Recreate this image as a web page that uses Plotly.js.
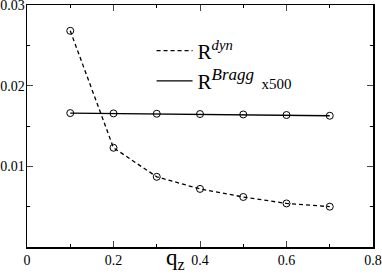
<!DOCTYPE html>
<html><head><meta charset="utf-8">
<script src="https://cdn.plot.ly/plotly-3.0.1.min.js"></script>
<style>html,body{margin:0;padding:0;background:#fff}#c{width:382px;height:277px}</style>
</head><body><div id="c"></div>
<script>
const qz = [0.1, 0.2, 0.3, 0.4, 0.5, 0.6, 0.7];
const rDyn = [0.0268, 0.0123, 0.0087, 0.0072, 0.0062, 0.0054, 0.0050];
const rBragg = [0.01660, 0.01656, 0.01652, 0.01648, 0.01643, 0.01636, 0.01627];
const xTicks = [0, 0.2, 0.4, 0.6, 0.8];
const xTickText = ['0', '0.2', '0.4', '0.6', '0.8'];
const yTicks = [0.01, 0.02, 0.03];
const yTickText = ['0.01', '0.02', '0.03'];

const fontFam = 'Liberation Serif';
const marker = {symbol: 'circle-open', size: 7, color: '#000', line: {width: 1, color: '#000'}};
const traces = [
  {x: qz, y: rDyn, mode: 'lines', name: 'R<sup><i>dyn</i></sup>',
   line: {color: '#000', width: 1.3, dash: '4px,3px'}},
  {x: qz, y: rBragg, mode: 'lines',
   name: 'R<sup><i><span style="font-size:17px">Bragg</span></i></sup><span style="font-size:15px">  x500</span>',
   line: {color: '#000', width: 1.3}},
  {x: qz, y: rDyn, mode: 'markers', showlegend: false, marker: marker},
  {x: qz, y: rBragg, mode: 'markers', showlegend: false, marker: marker}
];
const layout = {
  width: 382, height: 277,
  margin: {l: 27, r: 9, t: 5, b: 30},
  paper_bgcolor: '#fff', plot_bgcolor: '#fff',
  font: {family: fontFam, color: '#000', size: 14},
  showlegend: true,
  legend: {x: 0.36, y: 0.895, xanchor: 'left', yanchor: 'top', bgcolor: 'rgba(0,0,0,0)',
           font: {family: fontFam, size: 21, color: '#000'}, itemwidth: 36, tracegroupgap: 2},
  annotations: [{text: 'q<sub>z</sub>', xref: 'paper', yref: 'paper', x: 0.43, y: 0,
                 xanchor: 'center', yanchor: 'top', yshift: 4, showarrow: false,
                 font: {family: fontFam, size: 23, color: '#000'}}],
  xaxis: {range: [0, 0.8], tickvals: xTicks, ticktext: xTickText, ticks: 'inside', ticklen: 6,
          minor: {dtick: 0.1, ticks: 'inside', ticklen: 3, tickcolor: '#000'},
          showline: true, linecolor: '#000', linewidth: 1.5, mirror: 'allticks', showgrid: false,
          zeroline: false, tickfont: {size: 14, family: fontFam}, ticklabeloverflow: 'allow'},
  yaxis: {range: [0, 0.03], tickvals: yTicks, ticktext: yTickText, ticks: 'inside', ticklen: 6,
          minor: {dtick: 0.005, ticks: 'inside', ticklen: 3, tickcolor: '#000'},
          showline: true, linecolor: '#000', linewidth: 1.5, mirror: 'allticks', showgrid: false,
          zeroline: false, tickfont: {size: 14, family: fontFam}, ticklabeloverflow: 'allow',
          ticklabelstandoff: -2}
};
Plotly.newPlot('c', traces, layout, {displayModeBar: false, staticPlot: true});
</script></body></html>
